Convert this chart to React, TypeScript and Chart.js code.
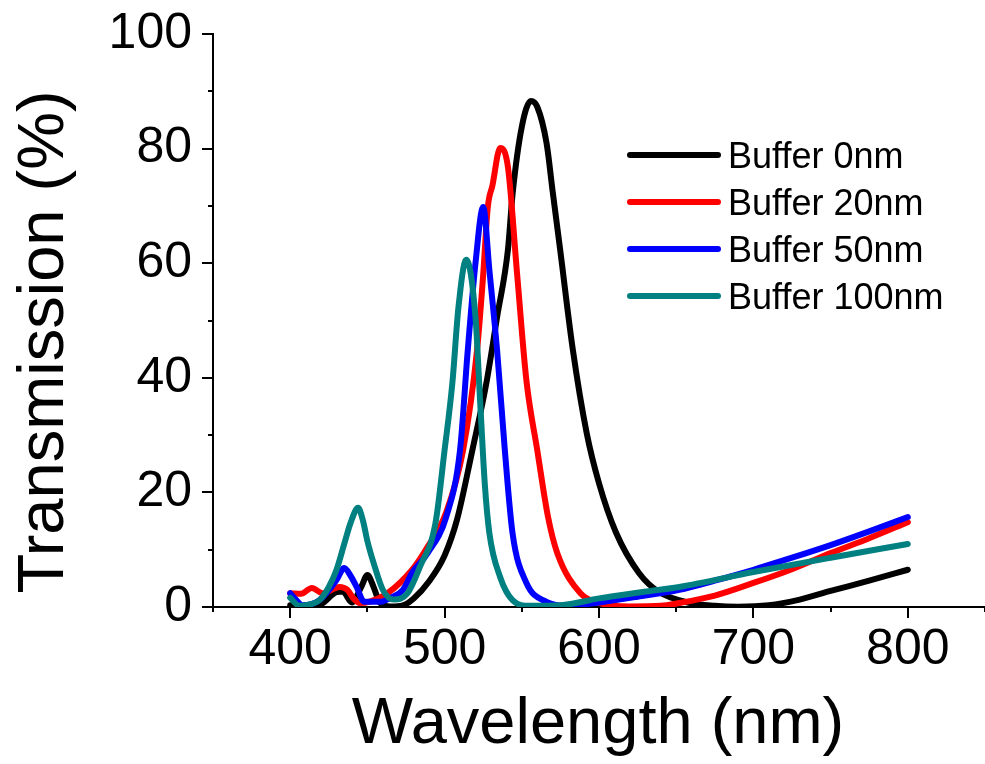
import React, { useEffect, useRef } from "react";
import { Chart, registerables } from "chart.js";

Chart.register(...registerables);

// ---- Data ----
const seriesLabels = ["Buffer 0nm", "Buffer 20nm", "Buffer 50nm", "Buffer 100nm"];
const seriesColors = ["#000000", "#ff0000", "#0000ff", "#008080"];

const wl0 = [400, 410, 420, 430, 434, 440, 446, 450, 454, 458, 465, 473, 480, 490, 500, 508, 518, 527, 534, 541, 544, 550, 556, 560, 566, 570, 575, 583, 592, 600, 611, 626, 639, 659, 675, 690, 710, 730, 750, 775, 800];
const t0 = [0.3, 0.1, 0.5, 2.6, 2.7, 0.8, 3.5, 5.6, 3.5, 0.8, 0.1, 0.3, 1.5, 4.5, 9, 15.2, 27.4, 39, 50.6, 62.3, 72, 83.8, 88.3, 87.3, 81, 72.5, 62, 45, 30.4, 21.6, 13, 5.9, 2.6, 0.7, 0.2, 0.05, 0.3, 1.3, 2.8, 4.6, 6.5];

const wl20 = [400, 407, 414, 421, 432, 437, 441, 445, 452, 463, 479, 489, 501, 512, 521, 525, 528, 531, 536, 541, 547, 553, 560, 567, 573, 588, 600, 620, 640, 652, 675, 700, 725, 750, 775, 800];
const t20 = [2.4, 2.3, 3.3, 2.4, 3.5, 3.0, 1.5, 0.7, 1.0, 2.4, 6.5, 10.5, 16.5, 27.4, 44.8, 58, 69.8, 73.6, 80.1, 76.8, 58, 39.5, 27.4, 15.7, 9.4, 2.4, 0.7, 0.1, 0.2, 0.7, 2.0, 4.2, 6.6, 9.4, 12, 14.8];

const wl50 = [400, 404, 408, 419, 430, 435, 439, 443, 448, 458, 465, 473, 479, 489, 501, 510, 515, 520, 525, 529, 534, 539, 544, 553, 566, 580, 600, 625, 652, 675, 700, 725, 750, 775, 800];
const t50 = [2.4, 1.2, 0.3, 1.2, 4.7, 6.8, 5.5, 3.5, 0.9, 0.9, 1.6, 3, 6, 9.4, 15.7, 27.4, 44.8, 60, 69.8, 58.8, 44.8, 27.4, 12.9, 4.2, 0.9, 0.2, 0.8, 1.8, 3, 4.6, 6.5, 8.6, 10.8, 13.2, 15.7];

const wl100 = [400, 406, 412, 419, 425, 430, 435, 439, 444, 447, 450, 454, 460, 467, 476, 484, 494, 500, 505, 509, 514, 520, 523, 526, 529, 536, 544, 555, 575, 600, 625, 652, 700, 750, 800];
const t100 = [1.6, 0.2, 0.4, 1.2, 3.5, 6.5, 11, 14.6, 17.3, 15.2, 11.5, 7.7, 3, 1.3, 2.4, 7, 14.5, 27.4, 39, 52.4, 60.6, 50.6, 36, 21.6, 12.9, 5.2, 1.2, 0.2, 0.3, 1.5, 2.5, 3.5, 6.1, 8.6, 11];

const seriesX = [wl0, wl20, wl50, wl100];
const seriesY = [t0, t20, t50, t100];

const xTickValues = [400, 500, 600, 700, 800];
const yTickValues = [0, 20, 40, 60, 80, 100];
const xMin = 350, xMax = 850, yMin = 0, yMax = 100;

const xTitle = "Wavelength (nm)";
const yTitle = "Transmission (%)";

const FONT = "'Liberation Sans', Arial, sans-serif";

const decorPlugin = {
  id: "decor",
  afterDraw(chart: any) {
    const ctx = chart.ctx as CanvasRenderingContext2D;
    const xs = chart.scales.x;
    const ys = chart.scales.y;
    const area = chart.chartArea;
    ctx.save();
    ctx.strokeStyle = "#000";
    ctx.lineWidth = 2;
    ctx.lineCap = "butt";
    // x ticks (major every 100, minor every 50)
    for (let v = xMin; v <= xMax; v += 50) {
      const px = Math.round(xs.getPixelForValue(v));
      const len = v % 100 === 0 ? 11 : 5;
      ctx.beginPath();
      ctx.moveTo(px, area.bottom);
      ctx.lineTo(px, area.bottom + len);
      ctx.stroke();
    }
    // y ticks (major every 20, minor every 10)
    for (let v = yMin; v <= yMax; v += 10) {
      const py = Math.round(ys.getPixelForValue(v));
      const len = v % 20 === 0 ? 11 : 5;
      ctx.beginPath();
      ctx.moveTo(area.left, py);
      ctx.lineTo(area.left - len, py);
      ctx.stroke();
    }
    // axis titles
    ctx.fillStyle = "#000";
    ctx.font = `65px ${FONT}`;
    ctx.textAlign = "center";
    ctx.textBaseline = "alphabetic";
    ctx.fillText(xTitle, 598, 743);
    ctx.save();
    ctx.translate(63, 342);
    ctx.rotate(-Math.PI / 2);
    ctx.fillText(yTitle, 0, 0);
    ctx.restore();
    // legend
    const lx0 = 630, lx1 = 718, ly0 = 155, dy = 47;
    ctx.font = `36px ${FONT}`;
    ctx.textAlign = "left";
    chart.data.datasets.forEach((ds: any, i: number) => {
      const y = ly0 + i * dy;
      ctx.strokeStyle = ds.borderColor;
      ctx.lineWidth = 6;
      ctx.lineCap = "round";
      ctx.beginPath();
      ctx.moveTo(lx0, y);
      ctx.lineTo(lx1, y);
      ctx.stroke();
      ctx.fillStyle = "#000";
      ctx.fillText(ds.label, 728, y + 13);
    });
    ctx.restore();
  },
};

export default function App() {
  const ref = useRef<HTMLCanvasElement | null>(null);
  useEffect(() => {
    if (!ref.current) return;
    const datasets = seriesLabels.map((label, i) => ({
      label,
      data: seriesX[i].map((x, j) => ({ x, y: seriesY[i][j] })),
      borderColor: seriesColors[i],
      backgroundColor: seriesColors[i],
      borderWidth: 6,
      pointRadius: 0,
      cubicInterpolationMode: "monotone" as const,
      borderJoinStyle: "round" as const,
      borderCapStyle: "round" as const,
      fill: false,
      order: 4 - i,
    }));
    const chart = new Chart(ref.current, {
      type: "line",
      data: { datasets },
      options: {
        animation: false,
        responsive: false,
        devicePixelRatio: 1,
        layout: { padding: { top: 34, left: 0, right: 0, bottom: 0 } },
        plugins: { legend: { display: false }, tooltip: { enabled: false } },
        scales: {
          x: {
            type: "linear",
            min: xMin,
            max: xMax,
            afterBuildTicks: (s: any) => {
              s.ticks = xTickValues.map((v) => ({ value: v }));
            },
            afterFit: (s: any) => {
              s.height = 157;
              s.paddingLeft = 0;
              s.paddingRight = 0;
            },
            grid: { display: true, drawOnChartArea: false, drawTicks: false },
            border: { display: true, color: "#000", width: 2 },
            ticks: {
              color: "#000",
              font: { family: FONT, size: 50 },
              padding: 13,
              maxRotation: 0,
              autoSkip: false,
            },
          },
          y: {
            type: "linear",
            min: yMin,
            max: yMax,
            afterBuildTicks: (s: any) => {
              s.ticks = yTickValues.map((v) => ({ value: v }));
            },
            afterFit: (s: any) => {
              s.width = 213;
              s.paddingTop = 0;
              s.paddingBottom = 0;
            },
            grid: { display: true, drawOnChartArea: false, drawTicks: false },
            border: { display: true, color: "#000", width: 2 },
            ticks: {
              color: "#000",
              font: { family: FONT, size: 50 },
              padding: 21,
              autoSkip: false,
            },
          },
        },
      },
      plugins: [decorPlugin],
    });
    return () => chart.destroy();
  }, []);
  return (
    <canvas
      ref={ref}
      width={985}
      height={764}
      style={{ position: "absolute", left: 0, top: 0, width: 985, height: 764 }}
    />
  );
}
